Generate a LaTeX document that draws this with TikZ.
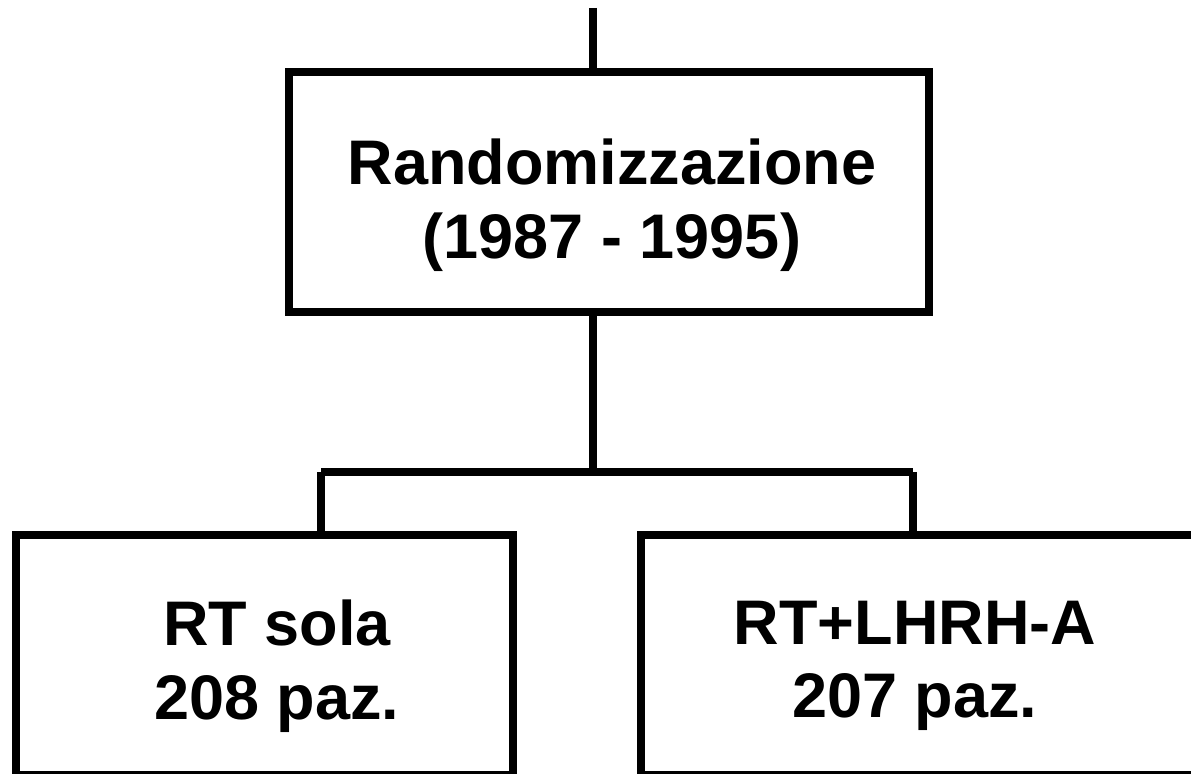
\documentclass[tikz,border=0pt]{standalone}
\usepackage{fontspec}
\setmainfont{Liberation Sans}
\usetikzlibrary{positioning}
\tikzstyle{Abox}=[draw,rectangle,line width=4pt,inner sep=0,minimum height=120pt]
\tikzstyle{Atxt}=[align=center,inner sep=0,font=\fontsize{31.5}{36.75}\selectfont\bfseries]
\tikzstyle{Alink}=[line width=4pt]
\newcommand{\armbox}[5]{\node[Abox,minimum width=#3] (#1) at (#2,655.5) {};\node[Atxt] (#1t) at (#4,666) {#5};}

\begin{document}
\begin{tikzpicture}[x=0.5pt,y=-0.5pt]
    \useasboundingbox (0,0) rectangle (1191,774);
    \clip (0,0) rectangle (1191,774);

    \node[Abox,minimum width=320pt] (rand) at (609,192) {};
    \node[Atxt] (randt) at (612,205) {Randomizzazione\\(1987 - 1995)};
    \coordinate (in) at (593,8);
    \coordinate (split) at (593,472);
    \coordinate (ljoin) at (321,472);
    \coordinate (rjoin) at (913,472);

  	\armbox{rts}{264.25}{248.75pt}{277}{RT sola\\208 paz.};
  	\armbox{rtl}{920}{279pt}{915}{RT+LHRH-A\\207 paz.};

    \draw[Alink] (in) -- (in |- rand.north);
    \draw[Alink] (rand.south -| in) -- (split);
    \draw[Alink] (ljoin) -- (rjoin);
    \draw[Alink] (ljoin) -- (ljoin |- rts.north);
    \draw[Alink] (rjoin) -- (rjoin |- rtl.north);
\end{tikzpicture}
\end{document}
